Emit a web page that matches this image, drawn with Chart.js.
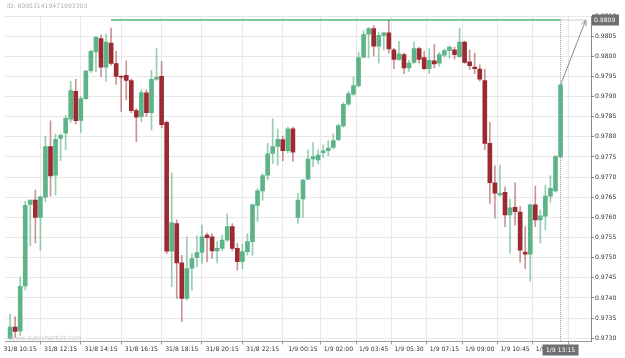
<!DOCTYPE html>
<html><head><meta charset="utf-8">
<script src="https://cdn.jsdelivr.net/npm/chart.js@4.4.1/dist/chart.umd.min.js"></script>
<style>html,body{margin:0;padding:0;background:#fff;overflow:hidden}canvas{display:block}</style>
</head><body>
<canvas id="c" width="625" height="358" style="width:625px;height:358px"></canvas>
<script>
// 15-minute candles, index 0 = 31/8 09:45
const opens = [
0.97300,0.97328,0.97318,0.97430,0.97632,0.97643,0.97600,0.97650,0.97776,0.97705,
0.97796,0.97809,0.97844,0.97913,0.97841,0.97895,0.97964,0.98011,0.98044,0.97973,
0.98033,0.97982,0.97950,0.97953,0.97940,0.97865,0.97850,0.97909,0.97860,0.97943,
0.97950,0.97836,0.97516,0.97585,0.97487,0.97399,0.97474,0.97500,0.97513,0.97556,
0.97552,0.97517,0.97523,0.97544,0.97577,0.97523,0.97490,0.97515,0.97540,0.97630,
0.97666,0.97705,0.97759,0.97776,0.97793,0.97766,0.97820,0.97600,0.97646,0.97695,
0.97745,0.97743,0.97761,0.97766,0.97774,0.97793,0.97827,0.97881,0.97906,0.97927,
0.97998,0.98055,0.98069,0.98025,0.98052,0.98058,0.98016,0.97992,0.98004,0.97971,
0.97985,0.98019,0.97997,0.97969,0.97989,0.97983,0.98003,0.98014,0.98016,0.97999,
0.98035,0.97986,0.97973,0.97968,0.97940,0.97784,0.97686,0.97656,0.97662,0.97606,
0.97625,0.97613,0.97514,0.97509,0.97631,0.97594,0.97603,0.97653,0.97666,0.97750];
const highs = [
0.97360,0.97353,0.97452,0.97640,0.97643,0.97668,0.97653,0.97801,0.97840,0.97807,
0.97808,0.97853,0.97938,0.97943,0.97900,0.97965,0.98016,0.98050,0.98053,0.98055,
0.98070,0.98012,0.97952,0.97989,0.97944,0.97870,0.97917,0.97917,0.97965,0.98020,
0.97987,0.97840,0.97711,0.97594,0.97506,0.97552,0.97511,0.97554,0.97581,0.97561,
0.97560,0.97540,0.97556,0.97608,0.97585,0.97536,0.97534,0.97559,0.97633,0.97671,
0.97708,0.97784,0.97845,0.97819,0.97802,0.97824,0.97824,0.97660,0.97695,0.97768,
0.97786,0.97768,0.97780,0.97790,0.97807,0.97832,0.97885,0.97913,0.97949,0.98010,
0.98064,0.98071,0.98076,0.98060,0.98060,0.98089,0.98020,0.98037,0.98008,0.97990,
0.98036,0.98023,0.98012,0.98019,0.98029,0.98010,0.98018,0.98026,0.98023,0.98070,
0.98038,0.98016,0.98008,0.97979,0.97968,0.97836,0.97728,0.97730,0.97676,0.97645,
0.97686,0.97627,0.97577,0.97633,0.97678,0.97618,0.97680,0.97704,0.97754,0.97930];
const lows = [
0.97297,0.97302,0.97307,0.97420,0.97530,0.97537,0.97519,0.97639,0.97653,0.97656,
0.97741,0.97768,0.97836,0.97832,0.97811,0.97893,0.97960,0.97962,0.97950,0.97938,
0.97978,0.97930,0.97863,0.97892,0.97860,0.97788,0.97838,0.97851,0.97817,0.97940,
0.97822,0.97510,0.97428,0.97399,0.97341,0.97395,0.97419,0.97477,0.97486,0.97490,
0.97498,0.97487,0.97517,0.97540,0.97517,0.97469,0.97473,0.97506,0.97506,0.97591,
0.97643,0.97693,0.97734,0.97730,0.97740,0.97760,0.97739,0.97585,0.97600,0.97693,
0.97726,0.97733,0.97749,0.97753,0.97770,0.97790,0.97824,0.97878,0.97903,0.97924,
0.97996,0.97996,0.98000,0.97983,0.98016,0.98008,0.97969,0.97990,0.97957,0.97962,
0.97982,0.97983,0.97967,0.97957,0.97971,0.97975,0.97998,0.97996,0.97993,0.97997,
0.97982,0.97967,0.97957,0.97939,0.97768,0.97635,0.97598,0.97653,0.97577,0.97511,
0.97581,0.97488,0.97473,0.97442,0.97577,0.97536,0.97569,0.97637,0.97663,0.97749];
const closes = [
0.97328,0.97317,0.97429,0.97630,0.97643,0.97600,0.97651,0.97776,0.97703,0.97794,
0.97804,0.97846,0.97915,0.97840,0.97895,0.97963,0.98012,0.98047,0.97973,0.98035,
0.97982,0.97950,0.97948,0.97940,0.97865,0.97849,0.97910,0.97860,0.97943,0.97948,
0.97830,0.97516,0.97587,0.97487,0.97399,0.97473,0.97498,0.97513,0.97552,0.97550,
0.97517,0.97523,0.97544,0.97577,0.97523,0.97490,0.97515,0.97540,0.97631,0.97666,
0.97704,0.97758,0.97776,0.97794,0.97766,0.97820,0.97762,0.97643,0.97693,0.97745,
0.97751,0.97755,0.97765,0.97772,0.97791,0.97828,0.97881,0.97907,0.97927,0.97997,
0.98054,0.98069,0.98025,0.98052,0.98058,0.98018,0.97992,0.98006,0.97971,0.97983,
0.98019,0.97992,0.97969,0.97990,0.97981,0.98004,0.98014,0.98023,0.98004,0.98035,
0.97985,0.97977,0.97969,0.97943,0.97784,0.97686,0.97660,0.97660,0.97606,0.97624,
0.97614,0.97519,0.97509,0.97631,0.97594,0.97604,0.97653,0.97672,0.97751,0.97929];

const tickIndexes = [2,10,18,26,34,42,50,58,65,72,79,86,93,100,107];
const tickLabels = ["31/8 10:15","31/8 12:15","31/8 14:15","31/8 16:15","31/8 18:15","31/8 20:15","31/8 22:15",
  "1/9 00:15","1/9 02:00","1/9 03:45","1/9 05:30","1/9 07:15","1/9 09:00","1/9 10:45","1/9 12:30"];
const resistanceLevel = [0.9809];
const resistanceStartIndex = [20];
const currentIndex = [109];
const currentLabel = ["1/9 13:15"];
const arrowEndIndex = [114];
const yRange = [0.97292, 0.9810];
const xRange = [-1.01, 115.03];
const idText = ["ID: 600531419471993303"];
const watermark = ["www.autochartist.com"];

const GREEN = '#5db489', RED = '#9b2a31';
const GREEN_W = 'rgba(93,180,137,0.65)', RED_W = 'rgba(155,42,49,0.5)';
const FONT = "'DejaVu Sans'";

const idx = opens.map((_, i) => i);
const up = idx.map(i => closes[i] >= opens[i]);

const bodies = idx.map(i => ({x: i, y: [opens[i], closes[i]]}));
const wicks = idx.map(i => ({x: i, y: [lows[i], highs[i]]}));
const cur = currentIndex[0];

const labelMap = {};
tickIndexes.forEach((v, k) => labelMap[v] = tickLabels[k]);

const overlay = {
  id: 'overlay',
  afterDraw(chart) {
    const {ctx, scales: {x, y}, chartArea} = chart;
    ctx.save();
    // arrow head
    const x0 = x.getPixelForValue(cur), y0 = y.getPixelForValue(closes[cur]);
    const x1 = x.getPixelForValue(arrowEndIndex[0]), y1 = y.getPixelForValue(resistanceLevel[0]);
    const a = Math.atan2(y1 - y0, x1 - x0);
    ctx.strokeStyle = '#8a8a8a'; ctx.lineWidth = 1;
    ctx.beginPath();
    ctx.moveTo(x1 - 6 * Math.cos(a - 0.45), y1 - 6 * Math.sin(a - 0.45));
    ctx.lineTo(x1, y1);
    ctx.lineTo(x1 - 6 * Math.cos(a + 0.45), y1 - 6 * Math.sin(a + 0.45));
    ctx.stroke();
    // y value box
    ctx.fillStyle = '#6f6f6f';
    ctx.fillRect(chartArea.right + 1, y1 - 5.5, 27, 11);
    ctx.fillStyle = '#ffffff';
    ctx.font = '6.1px ' + FONT;
    ctx.textBaseline = 'middle'; ctx.textAlign = 'left';
    ctx.fillText(resistanceLevel[0].toFixed(4), chartArea.right + 3, y1 + 0.5);
    // x value box
    const cx = x.getPixelForValue(cur);
    ctx.fillStyle = '#6f6f6f';
    ctx.fillRect(cx - 18, chartArea.bottom + 3, 36, 11);
    ctx.fillStyle = '#ffffff';
    ctx.textAlign = 'center';
    ctx.fillText(currentLabel[0], cx, chartArea.bottom + 9);
    // ID text
    ctx.fillStyle = '#b0b0b0';
    ctx.textAlign = 'left';
    ctx.font = '6.1px ' + FONT;
    ctx.fillText(idText[0], 7, 6.5);
    // watermark
    ctx.fillStyle = '#c8c8c8';
    ctx.font = '6.4px ' + FONT;
    ctx.fillText(watermark[0], 10, chartArea.bottom - 3);
    ctx.restore();
  }
};

new Chart(document.getElementById('c'), {
  type: 'bar',
  data: {
    datasets: [
      {data: bodies, backgroundColor: idx.map(i => up[i] ? GREEN : RED), barThickness: 4, grouped: false, minBarLength: 1, order: 1},
      {data: wicks, backgroundColor: idx.map(i => up[i] ? GREEN_W : RED_W), barThickness: 1, grouped: false, order: 2},
      {type: 'line', data: [{x: resistanceStartIndex[0], y: resistanceLevel[0]}, {x: cur, y: resistanceLevel[0]}],
        borderColor: '#79c69b', borderWidth: 2, pointRadius: 0, order: 3},
      {type: 'line', data: [{x: cur, y: resistanceLevel[0]}, {x: arrowEndIndex[0], y: resistanceLevel[0]}],
        borderColor: '#9a9a9a', borderWidth: 1, borderDash: [1, 1], pointRadius: 0, order: 4},
      {type: 'line', data: [{x: cur, y: resistanceLevel[0]}, {x: cur, y: yRange[0]}],
        borderColor: '#9a9a9a', borderWidth: 1, borderDash: [1, 1], pointRadius: 0, order: 5},
      {type: 'line', data: [{x: cur, y: closes[cur]}, {x: arrowEndIndex[0], y: resistanceLevel[0]}],
        borderColor: '#8a8a8a', borderWidth: 1, pointRadius: 0, order: 6}
    ]
  },
  options: {
    responsive: false,
    animation: false,
    events: [],
    layout: {padding: {left: 5, top: 16, right: 0, bottom: 0}},
    plugins: {legend: {display: false}, tooltip: {enabled: false}},
    scales: {
      x: {
        type: 'linear', min: xRange[0], max: xRange[1], offset: false,
        afterFit(s) { s.height = 16.5; s.paddingLeft = 0; s.paddingRight = 0; },
        afterBuildTicks(s) { s.ticks = tickIndexes.map(v => ({value: v})); },
        grid: {color: '#e8e8e8', tickColor: '#999', tickLength: 3, lineWidth: 1},
        border: {color: '#9a9a9a'},
        ticks: {autoSkip: false, maxRotation: 0, padding: 1, color: '#333',
          font: {family: FONT, size: 6.1}, callback: v => labelMap[v] || ''}
      },
      y: {
        position: 'right', min: yRange[0], max: yRange[1],
        afterFit(s) { s.width = 34; },
        grid: {color: '#e8e8e8', tickColor: '#888', tickLength: 3},
        border: {color: '#888'},
        ticks: {stepSize: 0.0005, includeBounds: false, padding: 1, color: '#333',
          font: {family: FONT, size: 6.1}, callback: v => v.toFixed(4)}
      }
    }
  },
  plugins: [overlay]
});
</script>
</body></html>
